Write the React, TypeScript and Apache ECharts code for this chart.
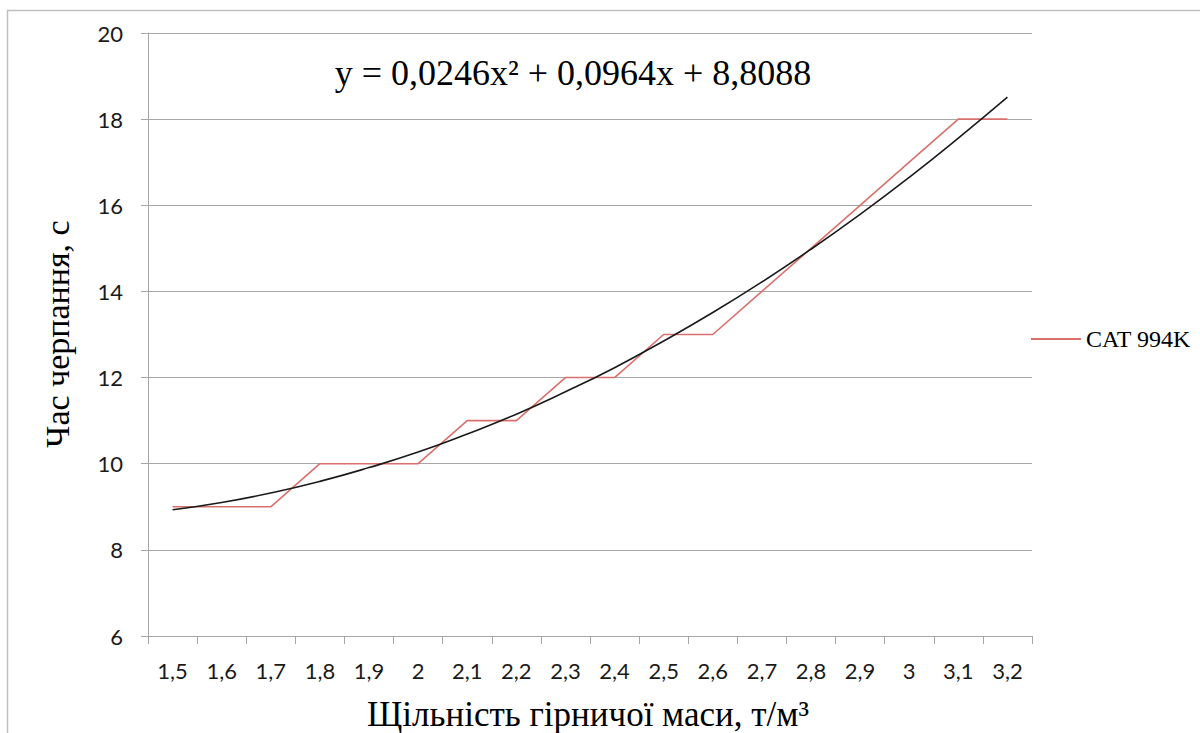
import React, { useEffect, useRef } from "react";
import * as echarts from "echarts";

const categories = ["1,5", "1,6", "1,7", "1,8", "1,9", "2", "2,1", "2,2", "2,3", "2,4", "2,5", "2,6", "2,7", "2,8", "2,9", "3", "3,1", "3,2"];
const catValues = [9, 9, 9, 10, 10, 10, 11, 11, 12, 12, 13, 13, 14, 15, 16, 17, 18, 18];
const trendValues = [8.93, 9.1, 9.32, 9.59, 9.91, 10.27, 10.69, 11.15, 11.67, 12.23, 12.85, 13.51, 14.22, 14.98, 15.79, 16.65, 17.56, 18.51];
const seriesName = "CAT 994K";
const equationText = "y = 0,0246x² + 0,0964x + 8,8088";
const xTitle = "Щільність гірничої маси, т/м³";
const yTitle = "Час черпання, с";

export default function App() {
  const ref = useRef<HTMLDivElement>(null);
  useEffect(() => {
    if (!ref.current) return;
    const chart = echarts.init(ref.current, null, { renderer: "svg" });
    const serif = "'Liberation Serif', 'Times New Roman', serif";
    const sans = "Lato, 'Open Sans', sans-serif";
    chart.setOption({
      animation: false,
      backgroundColor: "#ffffff",
      grid: { left: 148, right: 168, top: 33, bottom: 97, containLabel: false },
      legend: {
        data: [{ name: seriesName, icon: "rect" }],
        left: 1031,
        top: 327,
        padding: 0,
        itemWidth: 50,
        itemHeight: 2,
        itemGap: 5,
        textStyle: { fontFamily: serif, fontSize: 24, color: "#000" },
      },
      xAxis: {
        type: "category",
        data: categories,
        boundaryGap: true,
        axisLine: { show: true, lineStyle: { color: "#a6a6a6", width: 1 } },
        axisTick: { show: true, length: 8, lineStyle: { color: "#a6a6a6" } },
        axisLabel: { fontFamily: sans, fontSize: 22, color: "#1a1a1a", margin: 23, interval: 0 },
        splitLine: { show: false },
      },
      yAxis: {
        type: "value",
        min: 6,
        max: 20,
        interval: 2,
        axisLine: { show: true, lineStyle: { color: "#a6a6a6", width: 1 } },
        axisTick: { show: true, length: 7, lineStyle: { color: "#a6a6a6" } },
        axisLabel: { fontFamily: sans, fontSize: 22, color: "#1a1a1a", margin: 25 },
        splitLine: { show: true, lineStyle: { color: "#a6a6a6", width: 1 } },
      },
      graphic: [
        {
          type: "rect",
          shape: { x: 7.5, y: 10.5, width: 1300, height: 800 },
          style: { fill: "none", stroke: "#c0c0c0", lineWidth: 1.5 },
          silent: true,
          z: -1,
        },
        {
          type: "text",
          x: 573,
          y: 73,
          style: { text: equationText, fontFamily: serif, fontSize: 36, fill: "#000", textAlign: "center", textVerticalAlign: "middle" },
        },
        {
          type: "text",
          x: 588,
          y: 714,
          style: { text: xTitle, fontFamily: serif, fontSize: 35, fill: "#000", textAlign: "center", textVerticalAlign: "middle" },
        },
        {
          type: "text",
          x: 57,
          y: 334,
          rotation: Math.PI / 2,
          style: { text: yTitle, fontFamily: serif, fontSize: 34, fill: "#000", textAlign: "center", textVerticalAlign: "middle" },
        },
      ],
      series: [
        {
          name: seriesName,
          type: "line",
          data: catValues,
          symbol: "none",
          lineStyle: { color: "#d9706c", width: 1.6 },
          itemStyle: { color: "#d9706c" },
          z: 2,
        },
        {
          name: "trend",
          type: "line",
          data: trendValues,
          symbol: "none",
          smooth: true,
          lineStyle: { color: "#1a1a1a", width: 1.6 },
          itemStyle: { color: "#1a1a1a" },
          z: 3,
        },
      ],
    });
    return () => chart.dispose();
  }, []);
  return <div ref={ref} style={{ position: "fixed", left: 0, top: 0, width: 1200, height: 733 }} />;
}
